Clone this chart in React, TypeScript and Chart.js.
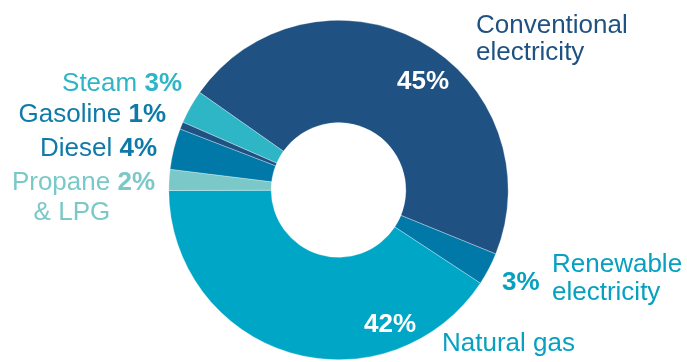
import React, { useEffect, useRef } from "react";
import { Chart, registerables } from "chart.js";

Chart.register(...registerables);

const categories = [
  "Conventional electricity",
  "Renewable electricity",
  "Natural gas",
  "Propane & LPG",
  "Diesel",
  "Gasoline",
  "Steam",
];
const shares = [46.4, 3.1, 40.7, 2.0, 3.9, 0.7, 3.2];
const pctLabels = ["45%", "3%", "42%", "2%", "4%", "1%", "3%"];
const segColors = ["#1F5282", "#0079A8", "#00A6C6", "#7AC9C8", "#0079A8", "#1F5282", "#2EB5C6"];
const textColors = ["#1F5282", "#05A0C2", "#05A0C2", "#7AC9C8", "#0E7AA8", "#0E7AA8", "#2EB5C6"];

const FONT = '"Liberation Sans", Arial, sans-serif';
const SIZE = 26;

const labelPlugin = {
  id: "labels",
  afterDraw(chart: any) {
    const ctx = chart.ctx as CanvasRenderingContext2D;
    ctx.save();
    ctx.textBaseline = "alphabetic";
    const reg = `${SIZE}px ${FONT}`;
    const bold = `bold ${SIZE}px ${FONT}`;
    const text = (s: string, x: number, y: number, font: string, color: string, align: CanvasTextAlign) => {
      ctx.font = font;
      ctx.fillStyle = color;
      ctx.textAlign = align;
      ctx.fillText(s, x, y);
    };
    // Conventional electricity
    text("Conventional", 476, 33, reg, textColors[0], "left");
    text("electricity", 476, 60, reg, textColors[0], "left");
    text(pctLabels[0], 423, 89, bold, "#FFFFFF", "center");
    // Renewable
    text(pctLabels[1], 502, 290, bold, textColors[1], "left");
    text("Renewable", 552, 272, reg, textColors[1], "left");
    text("electricity", 552, 300, reg, textColors[1], "left");
    // Natural gas
    text("Natural gas", 442, 351, reg, textColors[2], "left");
    text(pctLabels[2], 390, 332, bold, "#FFFFFF", "center");
    // left side labels: name + bold pct, right aligned
    const leftLabel = (name: string, pct: string, right: number, y: number, color: string) => {
      ctx.font = bold;
      const w = ctx.measureText(pct).width;
      text(pct, right, y, bold, color, "right");
      ctx.font = reg;
      const sp = ctx.measureText(" ").width;
      text(name, right - w - sp, y, reg, color, "right");
      return right - w - sp;
    };
    leftLabel("Steam", pctLabels[6], 182, 91, textColors[6]);
    leftLabel("Gasoline", pctLabels[5], 166, 122, textColors[5]);
    leftLabel("Diesel", pctLabels[4], 157, 156, textColors[4]);
    const r = leftLabel("Propane", pctLabels[3], 155, 190, textColors[3]);
    text("& LPG", r, 220, reg, textColors[3], "right");
    ctx.restore();
  },
};

export default function App() {
  const ref = useRef<HTMLCanvasElement>(null);
  useEffect(() => {
    if (!ref.current) return;
    const chart = new Chart(ref.current, {
      type: "doughnut",
      data: {
        labels: categories,
        datasets: [
          {
            data: shares,
            backgroundColor: segColors,
            borderColor: "rgba(255,255,255,0.5)",
            borderWidth: 0.6,
          },
        ],
      },
      options: {
        animation: false,
        responsive: false,
        rotation: -54.9,
        cutout: "39.7%",
        layout: { padding: { left: 168.5, right: 178.5, top: 20, bottom: 2 } },
        plugins: { legend: { display: false }, tooltip: { enabled: false } },
      },
      plugins: [labelPlugin],
    });
    return () => chart.destroy();
  }, []);
  return (
    <div style={{ position: "absolute", left: 0, top: 0, width: 687, height: 362, background: "#fff" }}>
      <canvas ref={ref} width={687} height={362} style={{ width: 687, height: 362 }} />
    </div>
  );
}
